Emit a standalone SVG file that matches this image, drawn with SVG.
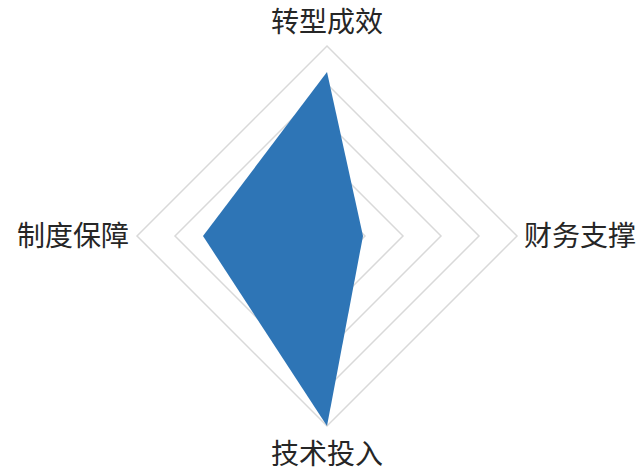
<svg xmlns="http://www.w3.org/2000/svg" width="642" height="472" viewBox="0 0 642 472">
<style>
.grid{fill:none;stroke:#d9d9d9;stroke-width:1.5}
.lbl{font-family:"Noto Sans CJK SC","Liberation Serif",serif;font-size:28px;fill:#262626}
</style>
<rect width="642" height="472" fill="#ffffff"/>
<g id="grid">
<polygon class="grid" points="327,198 365,236 327,274 289,236"/>
<polygon class="grid" points="327,160 403,236 327,312 251,236"/>
<polygon class="grid" points="327,122 441,236 327,350 213,236"/>
<polygon class="grid" points="327,84 479,236 327,388 175,236"/>
<polygon class="grid" points="327,46 517,236 327,426 137,236"/>
</g>
<g id="series">
<polygon points="327,72 363,236 327,426 203,236" fill="#2e75b6"/>
</g>
<g id="labels">
<text class="lbl" x="327" y="32" text-anchor="middle">转型成效</text>
<text class="lbl" x="524" y="246">财务支撑</text>
<text class="lbl" x="129" y="246" text-anchor="end">制度保障</text>
<text class="lbl" x="327" y="464" text-anchor="middle">技术投入</text>
</g>
</svg>
